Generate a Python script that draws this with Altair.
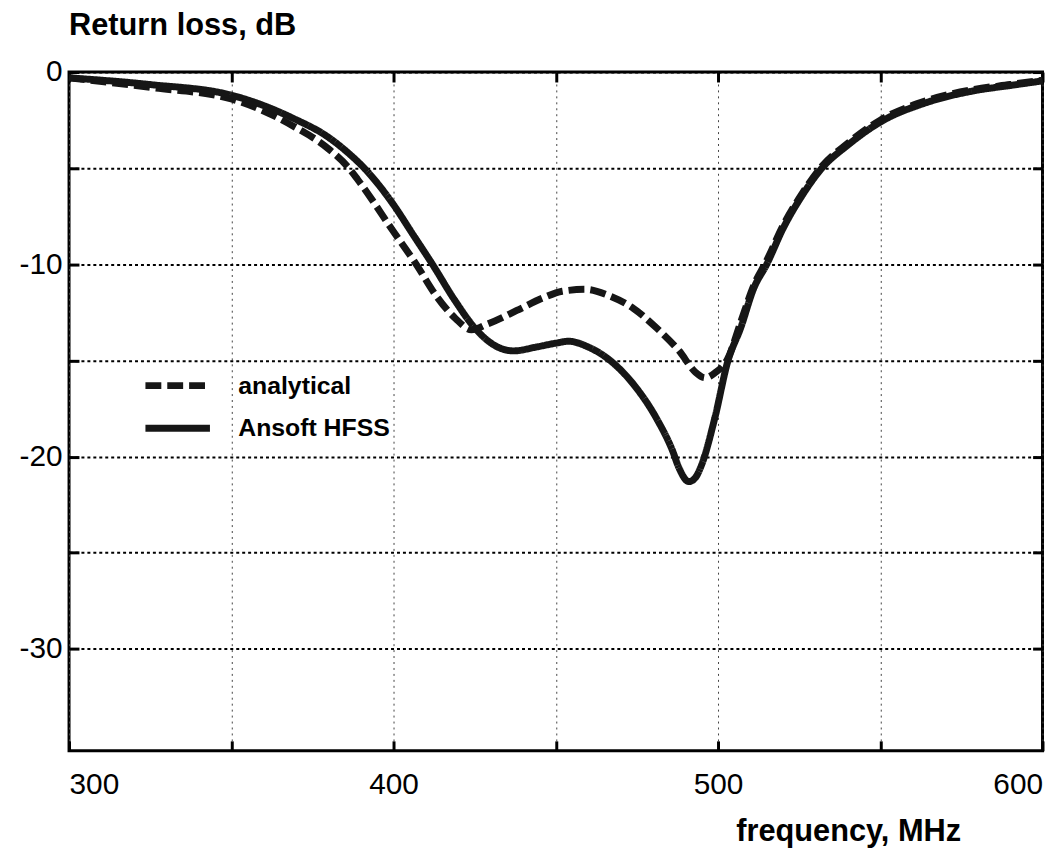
import altair as alt
import pandas as pd

# ---- data ----
series_names = ["analytical", "Ansoft HFSS"]

freq_analytical = [300, 325, 350, 369, 380, 386, 389, 400, 407, 413, 419, 424, 429,
                   438, 446, 452, 459, 466, 474, 481, 488, 493, 496, 499, 503, 507,
                   511, 515, 520, 526, 532, 540, 550, 564, 579, 590, 600]
rl_analytical = [-0.3, -0.8, -1.4, -2.8, -4.0, -4.95, -5.6, -8.3, -10.0, -11.6, -12.8,
                 -13.4, -13.1, -12.4, -11.75, -11.4, -11.3, -11.6, -12.3, -13.3, -14.5,
                 -15.6, -15.9, -15.65, -14.9, -13.0, -11.1, -9.8, -8.0, -6.3, -4.9,
                 -3.7, -2.5, -1.5, -0.9, -0.65, -0.42]

freq_hfss = [300, 325, 350, 369, 380, 386, 391, 400, 406, 412, 419, 425, 431, 437, 444,
             450, 454, 460, 466, 474, 481, 486, 488, 491, 493, 495, 499, 503, 507, 511,
             515, 520, 526, 532, 540, 550, 564, 579, 590, 600]
rl_hfss = [-0.3, -0.65, -1.2, -2.4, -3.4, -4.2, -5.0, -6.9, -8.45, -10.0, -11.9, -13.3,
           -14.2, -14.5, -14.3, -14.1, -14.0, -14.3, -14.9, -16.25, -18.0, -19.7,
           -20.6, -21.3, -21.1, -20.4, -18.0, -15.05, -13.3, -11.25, -10.0, -8.15, -6.4,
           -5.0, -3.8, -2.6, -1.6, -0.97, -0.7, -0.46]

x_ticks = [300, 350, 400, 450, 500, 550, 600]
y_ticks = [0, -5, -10, -15, -20, -25, -30]

df = pd.concat([
    pd.DataFrame({"f": freq_analytical, "rl": rl_analytical, "series": series_names[0]}),
    pd.DataFrame({"f": freq_hfss, "rl": rl_hfss, "series": series_names[1]}),
], ignore_index=True)

FONT = "Liberation Sans"
W, H = 981, 684
INK = "#161616"

xscale = alt.Scale(domain=[300, 600], nice=False, zero=False)
yscale = alt.Scale(domain=[-35.3, 0], nice=False, zero=False)

legend = alt.Legend(
    title=None, orient="none", legendX=73.5, legendY=304, padding=0,
    symbolType="stroke", symbolSize=4225, symbolStrokeWidth=7,
    clipHeight=24, rowPadding=18, labelOffset=25,
    labelFont=FONT, labelFontSize=25, labelFontWeight="bold", labelColor="black",
)

lines = alt.Chart(df).mark_line(strokeWidth=7, interpolate="monotone").encode(
    x=alt.X("f:Q", scale=xscale, axis=alt.Axis(
        values=x_ticks,
        labelExpr="datum.value % 100 == 0 ? toString(datum.value) : ''",
        grid=True, gridColor="#444", gridWidth=1, gridDash=[2, 4],
        domain=False, tickSize=10, tickWidth=3, tickColor="black", offset=-10,
        labelPadding=19, labelFont=FONT, labelFontSize=30, labelColor="black",
        labelFlush=True,
        title="frequency, MHz", titleFont=FONT, titleFontSize=31,
        titleFontWeight="bold", titleColor="black",
        titleX=898.5, titleY=100, titleAlign="right", titleBaseline="alphabetic",
    )),
    y=alt.Y("rl:Q", scale=yscale, axis=alt.Axis(
        values=y_ticks,
        labelExpr="datum.value % 10 == 0 ? toString(datum.value) : ''",
        grid=True, gridColor="black", gridWidth=2, gridDash=[3, 3],
        domain=False, tickSize=10, tickWidth=3, tickColor="black", offset=-10,
        labelPadding=7, labelFont=FONT, labelFontSize=30, labelColor="black",
        title=None,
    )),
    color=alt.Color("series:N", scale=alt.Scale(domain=series_names, range=[INK, INK]),
                    legend=legend),
    strokeDash=alt.StrokeDash("series:N",
                              scale=alt.Scale(domain=series_names, range=[[16, 6], [1, 0]]),
                              legend=legend),
)

frame_axes = alt.Chart(df).mark_line(strokeOpacity=0).encode(
    x=alt.X("f:Q", scale=xscale, axis=alt.Axis(
        orient="top", values=x_ticks, labels=False, grid=False, domain=False,
        tickSize=10, tickWidth=3, tickColor="black", offset=-10, title=None)),
    y=alt.Y("rl:Q", scale=yscale, axis=alt.Axis(
        orient="right", values=y_ticks, labels=False, grid=False, domain=False,
        tickSize=10, tickWidth=3, tickColor="black", offset=-10, title=None)),
)

chart = alt.layer(frame_axes, lines).resolve_axis(
    x="independent", y="independent"
).properties(
    width=W, height=H,
    autosize=alt.AutoSizeParams(type="none"),
    padding={"left": 61.5, "top": 61.3, "right": 2.5, "bottom": 97.7},
    title=alt.Title("Return loss, dB", anchor="start", frame="group", font=FONT,
                    fontSize=31, fontWeight="bold", color="black",
                    baseline="alphabetic", offset=22, dy=31),
).configure_view(stroke="black", strokeWidth=3)

chart.save("out.html", embed_options={"renderer": "svg", "actions": False})
